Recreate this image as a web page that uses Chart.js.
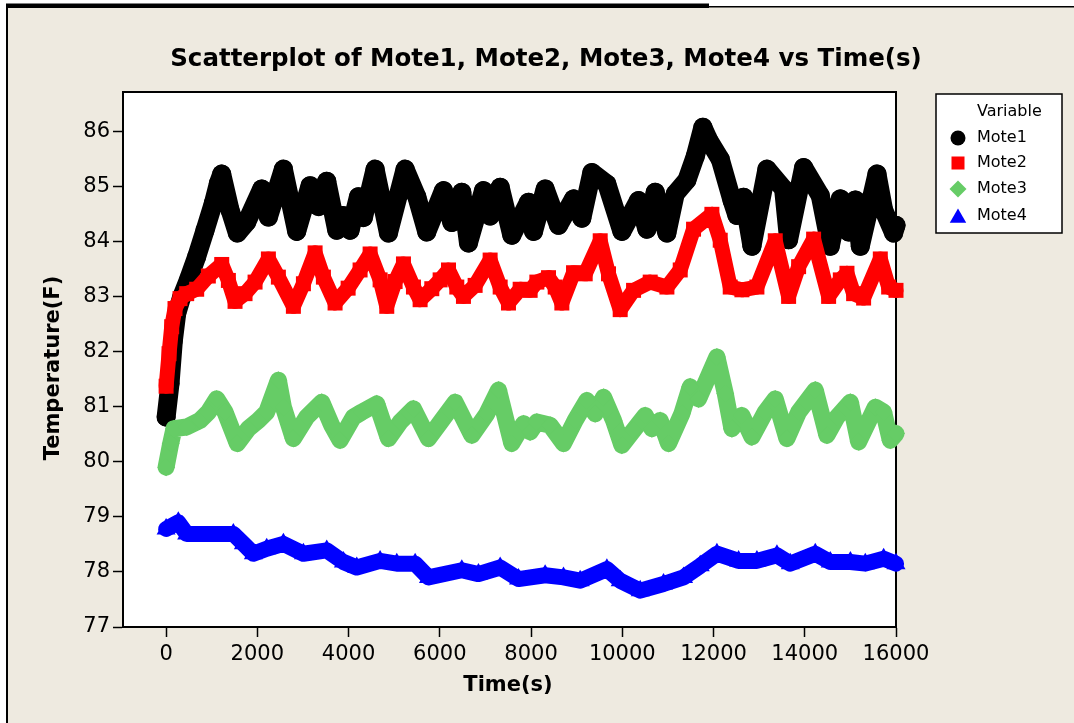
<!DOCTYPE html>
<html>
<head>
<meta charset="utf-8">
<title>Scatterplot of Mote1, Mote2, Mote3, Mote4 vs Time(s)</title>
<script src="https://cdn.jsdelivr.net/npm/chart.js@4.4.1/dist/chart.umd.min.js"></script>
<style>
  html, body { margin: 0; padding: 0; background: #ffffff; }
  #wrap { position: relative; width: 1074px; height: 723px; }
  canvas { display: block; }
</style>
</head>
<body>
<div id="wrap"><canvas id="chart" width="1074" height="723"></canvas></div>
<script>
// Temperature readings (F) of the four motes against elapsed time (s)
const mote1Time = [0, 86, 159, 232, 341, 488, 670, 853, 1036, 1146,
  1219, 1401, 1562, 1767, 2096, 2242, 2571, 2863, 3156, 3339,
  3521, 3741, 3872, 4033, 4216, 4325, 4581, 4874, 5239, 5495,
  5714, 6080, 6263, 6482, 6628, 6957, 7103, 7323, 7578, 7944,
  8054, 8309, 8602, 8931, 9113, 9333, 9662, 9991, 10356, 10539,
  10722, 10978, 11160, 11416, 11599, 11767, 11891, 12147, 12403, 12513,
  12659, 12842, 13171, 13536, 13646, 13975, 14340, 14559, 14779, 14961,
  15108, 15217, 15583, 15729, 15948, 16000];
const mote1Temp = [80.81, 81.42, 82.20, 82.69, 82.99, 83.30, 83.72, 84.20, 84.69, 85.05,
  85.22, 84.57, 84.15, 84.35, 84.95, 84.44, 85.31, 84.18, 85.01, 84.63,
  85.09, 84.20, 84.47, 84.20, 84.81, 84.43, 85.31, 84.15, 85.31, 84.81,
  84.17, 84.92, 84.34, 84.89, 83.97, 84.92, 84.46, 84.98, 84.11, 84.71,
  84.18, 84.95, 84.29, 84.77, 84.42, 85.25, 85.04, 84.18, 84.74, 84.22,
  84.89, 84.15, 84.86, 85.11, 85.54, 86.07, 85.84, 85.49, 84.75, 84.47,
  84.80, 83.91, 85.31, 84.95, 84.03, 85.34, 84.83, 83.91, 84.77, 84.17,
  84.75, 83.91, 85.22, 84.57, 84.15, 84.29];

const mote2Time = [0, 64, 122, 195, 305, 451, 670, 926, 1219, 1365,
  1511, 1730, 1950, 2242, 2461, 2790, 3010, 3266, 3448, 3704,
  3990, 4252, 4472, 4691, 4837, 5020, 5203, 5422, 5568, 5824,
  6007, 6190, 6372, 6518, 6774, 7103, 7323, 7505, 7761, 7980,
  8127, 8383, 8529, 8675, 8931, 9187, 9516, 9698, 9954, 10247,
  10612, 10978, 11270, 11562, 11964, 12147, 12366, 12622, 12951, 13353,
  13646, 13865, 14194, 14523, 14779, 14925, 15071, 15290, 15656, 15839,
  16000];
const mote2Temp = [81.37, 81.96, 82.45, 82.78, 82.96, 83.05, 83.13, 83.37, 83.58, 83.29,
  82.91, 83.05, 83.26, 83.68, 83.35, 82.82, 83.23, 83.79, 83.35, 82.88,
  83.15, 83.48, 83.77, 83.30, 82.82, 83.27, 83.59, 83.17, 82.94, 83.14,
  83.30, 83.48, 83.17, 83.00, 83.20, 83.66, 83.17, 82.88, 83.13, 83.11,
  83.26, 83.34, 83.17, 82.88, 83.43, 83.41, 84.01, 83.41, 82.76, 83.11,
  83.26, 83.17, 83.48, 84.22, 84.49, 84.02, 83.17, 83.12, 83.17, 84.01,
  83.00, 83.54, 84.04, 83.00, 83.30, 83.42, 83.05, 82.97, 83.68, 83.17,
  83.11];

const mote3Time = [0, 100, 173, 451, 744, 926, 1109, 1292, 1562, 1804,
  2023, 2205, 2461, 2571, 2790, 3083, 3412, 3631, 3814, 4106,
  4289, 4618, 4874, 5130, 5422, 5751, 6043, 6336, 6701, 7030,
  7286, 7578, 7834, 7980, 8127, 8419, 8711, 8967, 9223, 9406,
  9589, 9808, 9991, 10247, 10502, 10648, 10831, 11014, 11306, 11489,
  11672, 12074, 12257, 12403, 12622, 12842, 13134, 13353, 13609, 13865,
  14230, 14486, 14706, 15000, 15181, 15546, 15729, 15875, 16000];
const mote3Temp = [79.90, 80.33, 80.60, 80.63, 80.75, 80.90, 81.14, 80.90, 80.33, 80.60,
  80.75, 80.90, 81.48, 80.99, 80.42, 80.81, 81.08, 80.66, 80.39, 80.81,
  80.90, 81.05, 80.42, 80.72, 80.96, 80.42, 80.75, 81.08, 80.48, 80.87,
  81.30, 80.33, 80.69, 80.54, 80.72, 80.66, 80.33, 80.75, 81.11, 80.87,
  81.17, 80.75, 80.30, 80.57, 80.84, 80.60, 80.75, 80.33, 80.87, 81.36,
  81.14, 81.90, 81.24, 80.60, 80.84, 80.45, 80.90, 81.14, 80.42, 80.90,
  81.30, 80.48, 80.81, 81.08, 80.36, 80.99, 80.90, 80.39, 80.51];

const mote4Time = [0, 268, 451, 1474, 1694, 1913, 2205, 2571, 3010, 3521,
  3887, 4179, 4691, 5057, 5459, 5751, 6482, 6847, 7323, 7725,
  8309, 8711, 9077, 9662, 9954, 10393, 10904, 11343, 11709, 12074,
  12549, 12951, 13390, 13682, 14230, 14559, 15000, 15327, 15729, 16000];
const mote4Temp = [78.78, 78.90, 78.69, 78.69, 78.51, 78.33, 78.42, 78.51, 78.33, 78.39,
  78.18, 78.08, 78.20, 78.15, 78.15, 77.90, 78.03, 77.96, 78.08, 77.87,
  77.94, 77.90, 77.84, 78.05, 77.84, 77.66, 77.78, 77.90, 78.11, 78.33,
  78.20, 78.20, 78.30, 78.15, 78.33, 78.18, 78.18, 78.15, 78.24, 78.15];

const seriesNames = ['Mote1', 'Mote2', 'Mote3', 'Mote4'];
const xTicks = [0, 2000, 4000, 6000, 8000, 10000, 12000, 14000, 16000];
const yTicks = [77, 78, 79, 80, 81, 82, 83, 84, 85, 86];

const chartTitle = 'Scatterplot of Mote1, Mote2, Mote3, Mote4 vs Time(s)';
const xTitle = 'Time(s)';
const yTitle = 'Temperature(F)';
const legendTitle = 'Variable';

const PANEL = '#EEEAE0';
const FONT = '"DejaVu Sans", Verdana, sans-serif';

function pairs(xs, ys) {
  return xs.map((x, i) => ({ x: x, y: ys[i] }));
}

// marker look of each series: colour, shape, size, band width
const looks = [
  { color: '#000000', style: 'circle',   radius: 9.5,  line: 19, legendRadius: 7.5, order: 4 },
  { color: '#FF0000', style: 'rect',     radius: 10.6, line: 15, legendRadius: 9.2, order: 3 },
  { color: '#66CC66', style: 'rectRot',  radius: 9,    line: 17, legendRadius: 8.5, order: 2 },
  { color: '#0000FF', style: 'triangle', radius: 11,   line: 16, legendRadius: 9.5, order: 1 }
];

const seriesData = [
  pairs(mote1Time, mote1Temp),
  pairs(mote2Time, mote2Temp),
  pairs(mote3Time, mote3Temp),
  pairs(mote4Time, mote4Temp)
];

const datasets = seriesNames.map((name, i) => ({
  label: name,
  data: seriesData[i],
  showLine: true,
  order: looks[i].order,
  borderColor: looks[i].color,
  backgroundColor: looks[i].color,
  borderWidth: looks[i].line,
  borderJoinStyle: 'round',
  borderCapStyle: 'round',
  tension: 0,
  pointStyle: looks[i].style,
  pointRadius: looks[i].radius,
  pointBorderWidth: 0,
  pointBackgroundColor: looks[i].color,
  pointHoverRadius: looks[i].radius,
  clip: false
}));

// page panel, plot frame, titles and the boxed legend
const decor = {
  id: 'decor',
  beforeDraw(chart) {
    const { ctx, chartArea: a, width: W, height: H } = chart;
    ctx.save();
    ctx.fillStyle = '#ffffff';
    ctx.fillRect(0, 0, W, H);
    ctx.fillStyle = PANEL;
    ctx.fillRect(7, 7, W - 7, H - 7);
    ctx.fillStyle = '#000000';
    ctx.fillRect(6, 6, 2, H - 6);
    ctx.fillRect(6, 6, W - 6, 1.5);
    ctx.fillRect(6, 3.5, 703, 4.5);
    ctx.fillStyle = '#ffffff';
    ctx.fillRect(a.left, a.top, a.right - a.left, a.bottom - a.top);
    ctx.restore();
  },
  beforeDatasetsDraw(chart) {
    const { ctx, chartArea: a } = chart;
    ctx.save();
    ctx.strokeStyle = '#000000';
    ctx.lineWidth = 2;
    ctx.strokeRect(a.left, a.top, a.right - a.left, a.bottom - a.top);
    ctx.restore();
  },
  afterDraw(chart) {
    const { ctx } = chart;
    ctx.save();
    ctx.fillStyle = '#000000';
    ctx.textAlign = 'center';
    ctx.textBaseline = 'middle';

    ctx.font = 'bold 24.5px ' + FONT;
    ctx.fillText(chartTitle, 546, 60);

    ctx.font = 'bold 21px ' + FONT;
    ctx.fillText(xTitle, 508, 686);

    ctx.save();
    ctx.translate(54, 368);
    ctx.rotate(-Math.PI / 2);
    ctx.fillText(yTitle, 0, 0);
    ctx.restore();

    // legend box
    const bx = 936, by = 94, bw = 126, bh = 139;
    ctx.fillStyle = '#ffffff';
    ctx.fillRect(bx, by, bw, bh);
    ctx.strokeStyle = '#000000';
    ctx.lineWidth = 1.5;
    ctx.strokeRect(bx, by, bw, bh);

    ctx.fillStyle = '#000000';
    ctx.font = '16px ' + FONT;
    ctx.textAlign = 'left';
    ctx.fillText(legendTitle, 977, 112);

    const rowY = [138, 163, 189, 216];
    chart.data.datasets.forEach((ds, i) => {
      ctx.fillStyle = looks[i].color;
      ctx.strokeStyle = looks[i].color;
      Chart.helpers.drawPoint(ctx, {
        pointStyle: looks[i].style,
        radius: looks[i].legendRadius,
        rotation: 0,
        borderWidth: 0
      }, 958, rowY[i] + (looks[i].style === 'triangle' ? 2 : 0));
      ctx.fillStyle = '#000000';
      ctx.fillText(ds.label, 977, rowY[i]);
    });
    ctx.restore();
  }
};

const plainTick = (value) => String(value);

new Chart(document.getElementById('chart'), {
  type: 'scatter',
  data: { datasets: datasets },
  options: {
    responsive: false,
    animation: false,
    devicePixelRatio: 1,
    events: [],
    layout: { padding: { left: 0, top: 92, right: 178, bottom: 0 } },
    plugins: {
      legend: { display: false },
      title: { display: false },
      tooltip: { enabled: false }
    },
    scales: {
      x: {
        type: 'linear',
        position: 'bottom',
        min: -945,
        max: 16000,
        afterFit(scale) { scale.height = 96; },
        afterBuildTicks(scale) { scale.ticks = xTicks.map(v => ({ value: v })); },
        ticks: {
          includeBounds: false,
          autoSkip: false,
          maxRotation: 0,
          minRotation: 0,
          padding: 5,
          color: '#000000',
          font: { family: FONT, size: 21 },
          callback: plainTick
        },
        grid: {
          display: true,
          drawOnChartArea: false,
          drawTicks: true,
          tickLength: 10,
          tickColor: '#000000',
          tickWidth: 1.5,
          color: '#000000'
        },
        border: { display: true, color: '#000000', width: 2 }
      },
      y: {
        type: 'linear',
        position: 'left',
        min: 77,
        max: 86.71,
        afterFit(scale) { scale.width = 123; },
        afterBuildTicks(scale) { scale.ticks = yTicks.map(v => ({ value: v })); },
        ticks: {
          includeBounds: false,
          autoSkip: false,
          padding: 3,
          color: '#000000',
          font: { family: FONT, size: 21 },
          callback: plainTick
        },
        grid: {
          display: true,
          drawOnChartArea: false,
          drawTicks: true,
          tickLength: 10,
          tickColor: '#000000',
          tickWidth: 1.5,
          color: '#000000'
        },
        border: { display: true, color: '#000000', width: 2 }
      }
    }
  },
  plugins: [decor]
});
</script>
</body>
</html>
